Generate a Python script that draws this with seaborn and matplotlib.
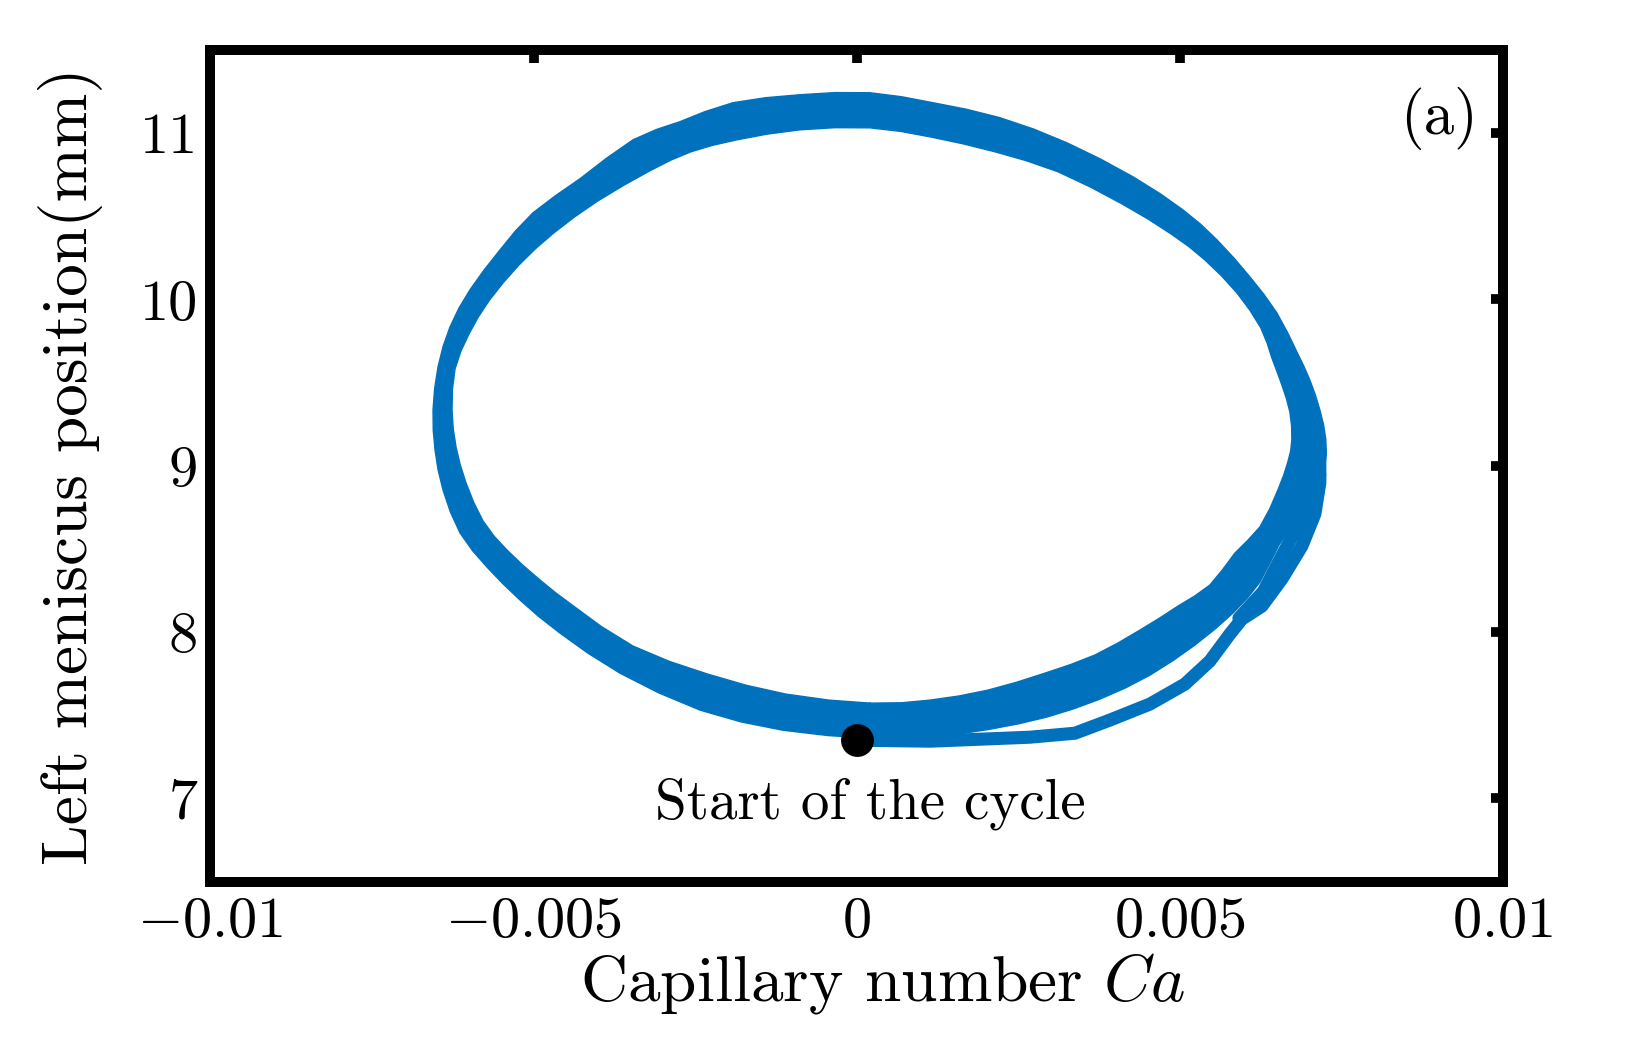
import matplotlib
matplotlib.use("Agg")
import matplotlib.pyplot as plt
import pandas as pd
import seaborn as sns
from matplotlib.ticker import FixedLocator, FixedFormatter

# ---------------- data ----------------
# Capillary numbers below are in units of 1e-3 (scaled when plotted).
# Envelope of the band formed by the repeated, overlapping cycles:
# outer boundary, starting at the bottom and going round towards the right.
band_outer_ca = [0.207, 0.698, 1.136, 1.603, 2.064, 2.512, 2.946, 3.363, 3.767, 4.161,
                 4.540, 4.900, 5.237, 5.548, 5.825, 6.052, 6.243, 6.389, 6.537, 6.755,
                 6.970, 7.127, 7.233, 7.271, 7.264, 7.229, 7.171, 7.100, 7.016, 6.925,
                 6.815, 6.674, 6.506, 6.310, 6.088, 5.839, 5.577, 5.330, 5.051, 4.695,
                 4.277, 3.783, 3.256, 2.739, 2.219, 1.697, 1.182, 0.697, 0.207, -0.331,
                 -0.876, -1.411, -1.913, -2.342, -2.733, -3.097, -3.460, -3.870, -4.280, -4.663,
                 -5.008, -5.279, -5.518, -5.763, -5.983, -6.155, -6.292, -6.400, -6.478, -6.530,
                 -6.555, -6.552, -6.524, -6.477, -6.400, -6.287, -6.137, -5.944, -5.720, -5.477,
                 -5.209, -4.926, -4.590, -4.164, -3.661, -3.064, -2.423, -1.788, -1.139, -0.444,
                 0.207]
band_outer_pos = [7.362, 7.359, 7.368, 7.388, 7.416, 7.449, 7.489, 7.539, 7.597, 7.664,
                  7.741, 7.829, 7.922, 8.018, 8.114, 8.206, 8.301, 8.408, 8.523, 8.651,
                  8.776, 8.880, 8.975, 9.066, 9.155, 9.246, 9.336, 9.427, 9.516, 9.597,
                  9.685, 9.799, 9.919, 10.028, 10.136, 10.250, 10.359, 10.451, 10.539, 10.637,
                  10.738, 10.843, 10.942, 11.025, 11.093, 11.144, 11.183, 11.219, 11.243, 11.244,
                  11.231, 11.213, 11.183, 11.130, 11.069, 11.022, 10.960, 10.849, 10.726, 10.623,
                  10.521, 10.412, 10.298, 10.178, 10.058, 9.947, 9.835, 9.717, 9.594, 9.465,
                  9.336, 9.214, 9.095, 8.976, 8.854, 8.723, 8.596, 8.490, 8.391, 8.292,
                  8.193, 8.096, 7.994, 7.875, 7.753, 7.635, 7.531, 7.460, 7.410, 7.378,
                  7.362]
# inner boundary, same direction
band_inner_ca = [0.207, 0.697, 1.136, 1.587, 2.033, 2.482, 2.915, 3.314, 3.689, 4.049,
                 4.386, 4.693, 4.974, 5.234, 5.469, 5.669, 5.856, 6.056, 6.243, 6.397,
                 6.521, 6.612, 6.676, 6.719, 6.738, 6.734, 6.707, 6.653, 6.583, 6.508,
                 6.428, 6.357, 6.258, 6.093, 5.887, 5.649, 5.391, 5.144, 4.865, 4.515,
                 4.107, 3.626, 3.117, 2.631, 2.142, 1.636, 1.136, 0.676, 0.207, -0.332,
                 -0.876, -1.387, -1.851, -2.228, -2.563, -2.874, -3.197, -3.597, -4.002, -4.359,
                 -4.683, -4.967, -5.224, -5.471, -5.689, -5.859, -5.998, -6.123, -6.215, -6.255,
                 -6.261, -6.243, -6.199, -6.134, -6.044, -5.926, -5.781, -5.611, -5.410, -5.165,
                 -4.899, -4.653, -4.358, -3.948, -3.460, -2.899, -2.300, -1.705, -1.093, -0.426,
                 0.207]
band_inner_pos = [7.573, 7.575, 7.591, 7.616, 7.651, 7.699, 7.753, 7.805, 7.862, 7.935,
                  8.012, 8.085, 8.156, 8.217, 8.283, 8.377, 8.475, 8.552, 8.632, 8.742,
                  8.854, 8.944, 9.023, 9.089, 9.155, 9.238, 9.324, 9.405, 9.486, 9.566,
                  9.649, 9.736, 9.829, 9.933, 10.040, 10.142, 10.238, 10.318, 10.395, 10.483,
                  10.575, 10.675, 10.768, 10.834, 10.888, 10.937, 10.978, 11.011, 11.032, 11.033,
                  11.020, 10.994, 10.960, 10.927, 10.888, 10.838, 10.774, 10.688, 10.593, 10.498,
                  10.401, 10.306, 10.208, 10.100, 9.992, 9.892, 9.793, 9.690, 9.582, 9.460,
                  9.336, 9.223, 9.113, 9.005, 8.897, 8.780, 8.668, 8.577, 8.493, 8.402,
                  8.313, 8.235, 8.150, 8.033, 7.916, 7.824, 7.747, 7.680, 7.627, 7.591,
                  7.573]

# first cycle: from the start point along the bottom, outside the band on the lower right
first_ca = [0.0, 1.136, 1.910, 2.683, 3.380, 3.921, 4.540, 5.082,
            5.469, 5.778, 5.964, 6.274, 6.583, 6.893, 7.094, 7.171,
            7.171, 7.078]
first_pos = [7.350, 7.344, 7.356, 7.368, 7.392, 7.471, 7.567, 7.687,
             7.826, 7.988, 8.078, 8.156, 8.319, 8.517, 8.710, 8.897,
             9.095, 9.276]

# second cycle, where it leaves the band on the lower right
second_ca = [5.918, 6.297, 6.599, 6.815, 7.086, 7.171]
second_pos = [8.084, 8.244, 8.471, 8.626, 8.779, 8.945]

start_ca = [0.0]
start_pos = [7.35]

xtick_values = [-0.01, -0.005, 0.0, 0.005, 0.01]
xtick_labels = [r"$-0.01$", r"$-0.005$", r"$0$", r"$0.005$", r"$0.01$"]
ytick_values = [7, 8, 9, 10, 11]
ytick_labels = ["7", "8", "9", "10", "11"]

CA_UNIT = 1e-3

# ---------------- style ----------------
sns.set_theme(style="white")
plt.rcParams.update({
    "font.family": "serif",
    "font.serif": ["cmr10", "DejaVu Serif"],
    "mathtext.fontset": "cm",
    "axes.unicode_minus": False,
    "axes.formatter.use_mathtext": True,
    "text.color": "black",
    "axes.labelcolor": "black",
    "xtick.color": "black",
    "ytick.color": "black",
})

BLUE = "#0072BD"
LW = 9.4

fig = plt.figure(figsize=(16.34, 10.46), dpi=100)
ax = fig.add_axes([0.1288, 0.1572, 0.7908, 0.795])

# band of overlapping cycles: outer boundary + inner boundary reversed (annulus)
poly_x = [v * CA_UNIT for v in band_outer_ca + band_inner_ca[::-1]]
poly_y = band_outer_pos + band_inner_pos[::-1]
ax.fill(poly_x, poly_y, facecolor=BLUE, edgecolor=BLUE, linewidth=1.0,
        joinstyle="round", zorder=2)

for cx, cy in [(first_ca, first_pos), (second_ca, second_pos)]:
    df = pd.DataFrame({"Ca": [v * CA_UNIT for v in cx], "pos": cy})
    sns.lineplot(data=df, x="Ca", y="pos", sort=False, estimator=None,
                 color=BLUE, linewidth=LW, ax=ax, legend=False, zorder=3,
                 solid_joinstyle="round", solid_capstyle="round")

sns.scatterplot(x=[v * CA_UNIT for v in start_ca], y=start_pos, s=560,
                color="black", linewidth=0, ax=ax, zorder=5, legend=False)

ax.text(0.00022, 6.88, "Start of the cycle", ha="center", va="baseline", fontsize=41)
ax.text(0.981, 0.899, "(a)", transform=ax.transAxes, ha="right", va="baseline", fontsize=44)

ax.set_xlim(-0.01, 0.01)
ax.set_ylim(6.5, 11.5)
ax.xaxis.set_major_locator(FixedLocator(xtick_values))
ax.xaxis.set_major_formatter(FixedFormatter(xtick_labels))
ax.yaxis.set_major_locator(FixedLocator(ytick_values))
ax.yaxis.set_major_formatter(FixedFormatter(ytick_labels))

ax.tick_params(direction="in", length=9, width=7, colors="black",
               top=True, right=True, labelsize=42)
ax.tick_params(axis="x", pad=11)
ax.tick_params(axis="y", pad=9)

for sp in ax.spines.values():
    sp.set_visible(True)
    sp.set_linewidth(7.2)
    sp.set_color("black")
    sp.set_zorder(6)

ax.set_xlabel(r"Capillary number $Ca$", fontsize=47)
ax.set_ylabel("Left meniscus position(mm)", fontsize=47)
ax.xaxis.set_label_coords(0.52, -0.083)
ax.yaxis.set_label_coords(-0.083, 0.5)

fig.savefig("out.png", dpi=100, facecolor="white")
